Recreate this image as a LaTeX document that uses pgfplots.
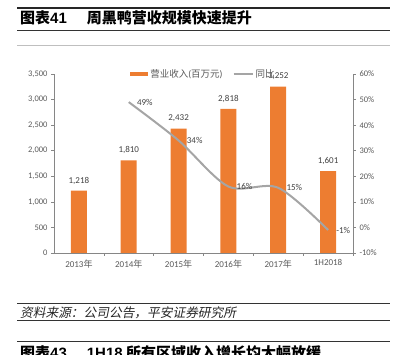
\documentclass[border=0pt]{standalone}
\usepackage{pgfplots}
\pgfplotsset{compat=1.18}
\usepackage{fontspec}
\setmainfont{Carlito}
\newfontfamily\cjk{Noto Sans CJK SC}
\newfontfamily\cjkit{Noto Sans CJK SC}[FakeSlant=0.2]
\newfontfamily\arial{Liberation Sans}
\definecolor{barc}{HTML}{ED7D31}
\definecolor{linec}{HTML}{A5A5A5}
\definecolor{tickc}{HTML}{595959}
\definecolor{datac}{HTML}{404040}
\definecolor{axc}{HTML}{868686}
\begin{document}
\begin{tikzpicture}[x=1pt,y=1pt]
\useasboundingbox (0,0) rectangle (397,355);
% header
\draw[line width=1.3pt, black!85] (17,347) -- (390,347);
\node[anchor=west, inner sep=0pt] at (20,337.5) {\fontsize{15}{16}\selectfont\bfseries{\cjk 图表}{\arial 41}\hspace{20pt}{\cjk 周黑鸭营收规模快速提升}};
\draw[line width=0.9pt, black!80] (17,325) -- (390,325);
\draw[line width=0.6pt, black!25] (17,310) -- (390,310);
% footer
\draw[line width=0.9pt, black!80] (17,52) -- (390,52);
\node[anchor=west, inner sep=0pt] at (20,42) {\fontsize{12.7}{14}\selectfont\color{black!85}\cjkit 资料来源：公司公告，平安证券研究所};
\draw[line width=0.9pt, black!80] (17,35) -- (390,35);
\draw[line width=0.9pt, black!80] (17,13.5) -- (390,13.5);
\node[anchor=west, inner sep=0pt] at (20,2) {\fontsize{15}{16}\selectfont\bfseries{\cjk 图表}{\arial 43}\hspace{20pt}{\arial 1H18} {\cjk 所有区域收入增长均大幅放缓}};
% chart
\begin{axis}[
  at={(54pt,102pt)}, anchor=south west, scale only axis,
  width=299pt, height=179pt,
  xmin=-0.5, xmax=5.5, ymin=0, ymax=3500,
  ytick={0,500,...,3500},
  axis x line*=bottom, axis y line*=left,
  axis line style={axc, line width=0.6pt},
  xtick={0,...,5},
  xticklabels={2013{\cjk 年},2014{\cjk 年},2015{\cjk 年},2016{\cjk 年},2017{\cjk 年},1H2018},
  major x tick style={draw=none},
  minor xtick={0.5,1.5,...,5.5},
  tick align=outside, major tick length=3pt, minor tick length=3pt,
  tick style={axc, line width=0.6pt},
  xticklabel style={font=\fontsize{9}{10}\selectfont, text=tickc},
  yticklabel style={font=\fontsize{8.5}{10}\selectfont, text=tickc},
  /pgf/number format/1000 sep={,},
  /pgf/number format/assume math mode=true,
  clip=false,
  legend style={at={(0.5,1)}, anchor=center, draw=none, fill=none,
    font=\fontsize{9.5}{10}\selectfont, text=tickc, legend columns=2,
    /tikz/every even column/.append style={column sep=8pt}},
]
\addplot[ybar, bar width=16pt, fill=barc, draw=none,
  nodes near coords,
  nodes near coords style={font=\fontsize{9}{10}\selectfont, text=datac, yshift=3pt},
  legend image code/.code={\fill[barc] (0pt,-2.2pt) rectangle (18pt,2.2pt);}]
  coordinates {(0,1218) (1,1810) (2,2432) (3,2818) (4,3252) (5,1601)};
\addlegendentry{{\cjk 营业收入}({\cjk 百万元})}
\addlegendimage{legend image code/.code={\draw[linec, line width=2pt] (0pt,0pt) -- (19pt,0pt);}}
\addlegendentry{{\cjk 同比}}
\end{axis}
\begin{axis}[
  at={(54pt,102pt)}, anchor=south west, scale only axis,
  width=299pt, height=179pt,
  xmin=-0.5, xmax=5.5, ymin=-10, ymax=60,
  ytick={-10,0,...,60},
  axis y line*=right, axis x line=none,
  axis line style={axc, line width=0.6pt},
  tick align=outside, major tick length=3pt,
  tick style={axc, line width=0.6pt},
  ticklabel style={font=\fontsize{8.5}{10}\selectfont, text=tickc},
  /pgf/number format/assume math mode=true,
  yticklabel={\pgfmathprintnumber{\tick}\%},
  clip=false,
]
\addplot[linec, line width=2pt, smooth, tension=0.5,
  nodes near coords, point meta=explicit symbolic,
  nodes near coords style={anchor=west, xshift=4pt, font=\fontsize{9}{10}\selectfont, text=datac}]
  coordinates {(1,49) [49\%] (2,34) [34\%] (3,16) [16\%] (4,15.5) [15\%] (5,-1) [-1\%]};
\end{axis}
\end{tikzpicture}
\end{document}
